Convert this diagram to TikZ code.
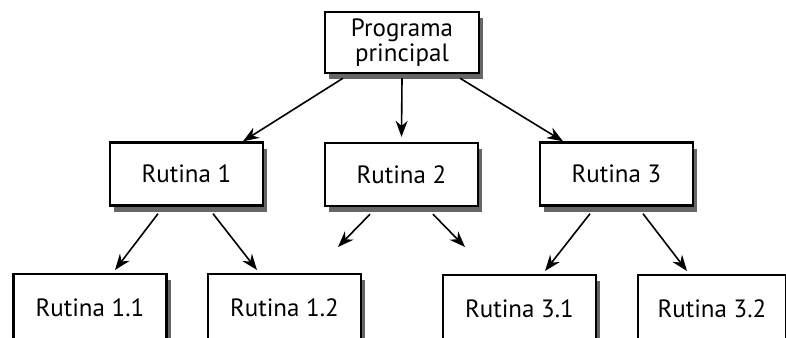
\documentclass[tikz,border=0pt]{standalone}
\usepackage{fontspec}
\setmainfont{PT Sans}
\usepackage{tikz}
\usetikzlibrary{arrows.meta, shadows}

\begin{document}
\begin{tikzpicture}[
  x=0.5pt, y=-0.5pt,
  every node/.style={font=\fontsize{12.5}{12.5}\selectfont},
  rutbox/.style={rectangle, draw=black, line width=1.2pt, fill=white,
    minimum width=76.5pt, minimum height=31.5pt, align=center,
    drop shadow={shadow xshift=2pt, shadow yshift=-3pt, fill=black!60, opacity=1}},
  leafbox/.style={rutbox, anchor=north, minimum height=0pt, inner ysep=0pt,
    text height=21pt, text depth=15pt},
  arr/.style={-{Stealth[length=8pt, width=6pt]}, line width=0.8pt, black}
]
\path[use as bounding box, clip] (0,0) rectangle (786,337);

% ===== MAIN PROGRAM =====
\node[rutbox, minimum width=77pt, minimum height=30.5pt] (prog) at (402,42.5) {Programa\\principal};

% ===== FIRST LEVEL =====
\node[rutbox] (r1) at (186.5,174) {Rutina 1};
\node[rutbox] (r2) at (401.5,174.5) {Rutina 2};
\node[rutbox] (r3) at (616.5,174) {Rutina 3};
\draw[arr] ([xshift=-29.5pt, yshift=-2pt]prog.south) -- ([xshift=28.25pt]r1.north);
\draw[arr] ([yshift=-2pt]prog.south) -- ([yshift=2.5pt]r2.north);
\draw[arr] ([xshift=29pt, yshift=-2pt]prog.south) -- ([xshift=-26.75pt]r3.north);

% ===== SECOND LEVEL =====
\node[leafbox] (r11) at (90,273) {Rutina 1.1};
\node[leafbox] (r12) at (284.5,273) {Rutina 1.2};
\node[leafbox] (r31) at (519.5,274) {Rutina 3.1};
\node[leafbox, minimum width=74pt] (r32) at (712,274) {Rutina 3.2};
\coordinate (r2a) at (338,247);
\coordinate (r2b) at (465,247);

\draw[arr] ([xshift=-14.25pt, yshift=-3.5pt]r1.south) -- ([xshift=12.5pt, yshift=1.5pt]r11.north);
\draw[arr] ([xshift=13.25pt, yshift=-3.5pt]r1.south) -- ([xshift=-13.75pt, yshift=1.5pt]r12.north);
\draw[arr] ([xshift=-15.75pt, yshift=-3.5pt]r2.south) -- (r2a);
\draw[arr] ([xshift=15.75pt, yshift=-3.5pt]r2.south) -- (r2b);
\draw[arr] ([xshift=-13.25pt, yshift=-3.5pt]r3.south) -- ([xshift=12.75pt, yshift=1.5pt]r31.north);
\draw[arr] ([xshift=13.25pt, yshift=-3.5pt]r3.south) -- ([xshift=-12.5pt, yshift=1.5pt]r32.north);
\end{tikzpicture}
\end{document}
